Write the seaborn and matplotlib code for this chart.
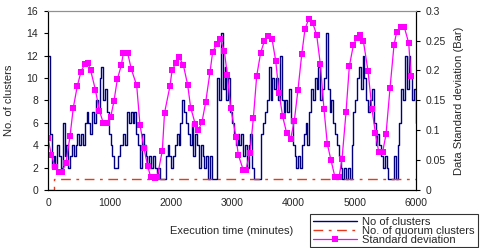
import numpy as np
import pandas as pd
import matplotlib
matplotlib.use("Agg")
import matplotlib.pyplot as plt
import seaborn as sns

# ---------------- data ----------------
cluster_time = np.arange(0, 6001, 30)
clusters = [12, 5, 2, 3, 2, 4, 3, 2, 6, 3, 4, 2, 3, 4, 3, 4, 5, 4, 5, 4,
            6, 7, 6, 5, 7, 6, 8, 7, 10, 11, 8, 9, 7, 5, 4, 3, 2, 2, 3, 4,
            4, 5, 4, 7, 6, 7, 6, 7, 5, 4, 2, 5, 4, 3, 2, 3, 2, 3, 2, 1,
            2, 1, 1, 1, 3, 4, 3, 2, 3, 4, 5, 4, 6, 8, 7, 6, 5, 4, 6, 3,
            5, 4, 2, 4, 3, 2, 3, 1, 3, 1, 1, 1, 10, 8, 14, 9, 11, 8, 10, 7,
            6, 5, 4, 5, 4, 5, 3, 4, 2, 4, 5, 2, 1, 1, 1, 1, 5, 6, 7, 8,
            11, 8, 10, 9, 10, 8, 12, 8, 7, 8, 7, 9, 6, 4, 3, 2, 3, 2, 4, 5,
            6, 4, 7, 9, 8, 10, 9, 11, 8, 9, 10, 14, 9, 7, 8, 6, 5, 4, 3, 2,
            1, 2, 1, 2, 1, 4, 7, 8, 10, 11, 9, 12, 10, 8, 7, 8, 9, 6, 4, 5,
            4, 3, 2, 3, 2, 1, 1, 1, 3, 1, 4, 6, 9, 8, 12, 9, 12, 10, 8, 9,
            6]

quorum_time = [0, 90, 90, 6000]
quorum = [0, 0, 1, 1]

std_time = [0, 54, 114, 185, 228, 293, 359, 413, 478, 538, 598, 652, 696,
            772, 837, 902, 957, 1022, 1076, 1130, 1196, 1228, 1299, 1359,
            1446, 1500, 1565, 1625, 1674, 1745, 1782, 1864, 1900, 1989,
            2022, 2082, 2141, 2207, 2277, 2326, 2402, 2451, 2511, 2571,
            2641, 2685, 2750, 2805, 2875, 2924, 2978, 3065, 3103, 3185,
            3223, 3293, 3348, 3403, 3468, 3527, 3592, 3652, 3713, 3766,
            3826, 3892, 3957, 4016, 4076, 4137, 4190, 4250, 4315, 4381,
            4440, 4500, 4554, 4614, 4680, 4745, 4794, 4859, 4913, 4978,
            5033, 5087, 5141, 5218, 5283, 5337, 5392, 5457, 5511, 5576,
            5641, 5685, 5750, 5808, 5881, 5918]
std_dev = [0.0865, 0.059, 0.039, 0.030, 0.030, 0.046, 0.090, 0.138, 0.174,
           0.198, 0.211, 0.212, 0.200, 0.168, 0.133, 0.112, 0.112, 0.122,
           0.149, 0.185, 0.209, 0.229, 0.229, 0.202, 0.175, 0.109, 0.070,
           0.040, 0.022, 0.0195, 0.022, 0.066, 0.129, 0.174, 0.200, 0.212,
           0.222, 0.209, 0.176, 0.138, 0.110, 0.100, 0.114, 0.147, 0.197,
           0.231, 0.244, 0.253, 0.233, 0.192, 0.138, 0.089, 0.059, 0.033,
           0.033, 0.062, 0.120, 0.191, 0.230, 0.249, 0.258, 0.253, 0.216,
           0.163, 0.123, 0.095, 0.086, 0.116, 0.168, 0.227, 0.269, 0.286,
           0.280, 0.259, 0.211, 0.135, 0.077, 0.050, 0.021, 0.021, 0.052,
           0.130, 0.207, 0.242, 0.255, 0.259, 0.250, 0.199, 0.135, 0.096,
           0.064, 0.064, 0.093, 0.170, 0.242, 0.265, 0.272, 0.273, 0.246,
           0.190]

x_ticks = [0, 1000, 2000, 3000, 4000, 5000, 6000]
left_ticks = [0, 2, 4, 6, 8, 10, 12, 14, 16]
right_ticks = [0, 0.05, 0.1, 0.15, 0.2, 0.25, 0.3]
right_labels = ["0", "0.05", "0.1", "0.15", "0.2", "0.25", "0.3"]

# ---------------- style ----------------
sns.set_style("white")
plt.rcParams["font.family"] = ["Liberation Sans", "DejaVu Sans"]
plt.rcParams["font.size"] = 7.5

df_c = pd.DataFrame({"t": cluster_time, "v": clusters})
df_q = pd.DataFrame({"t": quorum_time, "v": quorum})
df_s = pd.DataFrame({"t": std_time, "v": std_dev})

fig = plt.figure(figsize=(4.86, 2.48), dpi=100)
ax = fig.add_axes([48 / 486, 1 - 190 / 248, (416 - 48) / 486, (190 - 10.7) / 248])
ax2 = ax.twinx()

sns.lineplot(data=df_c, x="t", y="v", ax=ax, color="#000080", lw=1.0,
             drawstyle="steps-post", sort=False, estimator=None,
             label="No of clusters", legend=False)
sns.lineplot(data=df_q, x="t", y="v", ax=ax, color="#e8381e", lw=1.0,
             sort=False, estimator=None, dashes=False,
             label="No. of quorum clusters", legend=False)
ax.lines[-1].set_dashes([7, 4, 2, 4])
sns.lineplot(data=df_s, x="t", y="v", ax=ax2, color="#ff00ff", lw=0.9,
             marker="s", markersize=4.5, markeredgewidth=0, sort=False,
             estimator=None, label="Standard deviation", legend=False)

ax.set_xlim(0, 6000)
ax.set_ylim(0, 16)
ax2.set_ylim(0, 0.3)
ax.set_xticks(x_ticks)
ax.set_yticks(left_ticks)
ax2.set_yticks(right_ticks)
ax2.set_yticklabels(right_labels)

ax.set_xlabel("Execution time (minutes)", fontsize=8, labelpad=13)
ax.set_ylabel("No. of clusters", fontsize=8, labelpad=9)
ax2.set_ylabel("Data Standard deviation (Bar)", fontsize=8, labelpad=6)

for a in (ax, ax2):
    a.tick_params(axis="both", labelsize=7.5, length=3, width=0.8, pad=4,
                  color="black", direction="out")
    for s in a.spines.values():
        s.set_color("black")
        s.set_linewidth(0.8)
    a.spines["top"].set_color("#909090")
ax.tick_params(axis="x", direction="inout", length=5, pad=3)

handles = ax.lines[:2] + ax2.lines[:1]
labels = ["No of clusters", "No. of quorum clusters", "Standard deviation"]
leg = fig.legend(handles, labels, loc="upper left",
                 bbox_to_anchor=(310 / 486, 1 - 214 / 248),
                 frameon=True, fancybox=False, fontsize=8,
                 handlelength=4.0, handletextpad=0.45, labelspacing=-0.1,
                 borderpad=0.25, borderaxespad=0)
leg.get_frame().set_edgecolor("black")
leg.get_frame().set_linewidth(0.8)

fig.savefig("out.png", dpi=100)
